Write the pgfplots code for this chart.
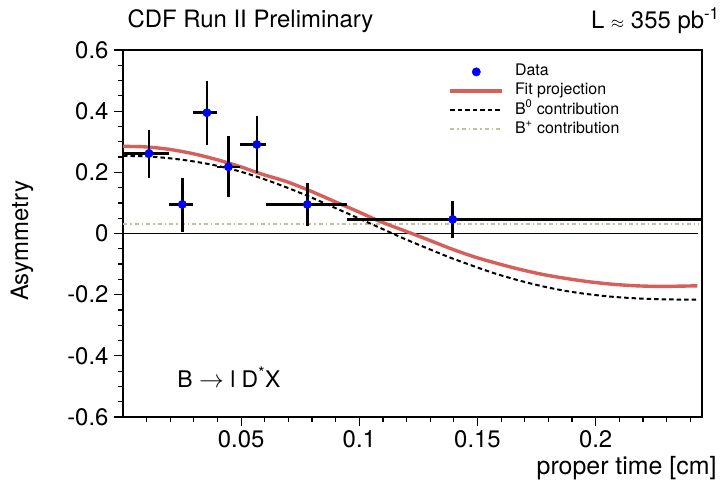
\documentclass[border=0pt]{standalone}
\usepackage{fontspec}
\setmainfont{TeX Gyre Heros}
\usepackage{pgfplots}
\usepackage{pgfplotstable}
\pgfplotsset{compat=1.18}

\definecolor{fitred}{RGB}{215,95,90}
\definecolor{bplustan}{RGB}{200,190,155}

% binned asymmetry: centre, value, bin half-widths and errors
\pgfplotstableread{
x       y      xm      xp      ym     yp
0.0110  0.262  0.0110  0.0086  0.082  0.077
0.0251  0.095  0.0055  0.0044  0.090  0.085
0.0355  0.395  0.0060  0.0042  0.104  0.105
0.0446  0.218  0.0049  0.0049  0.098  0.100
0.0566  0.291  0.0071  0.0038  0.093  0.093
0.0780  0.095  0.0176  0.0167  0.070  0.071
0.1395  0.046  0.0446  0.1200  0.060  0.061
}\asymdata

% projection of the full fit
\pgfplotstableread{
t       a
0.0000  0.285
0.0099  0.283
0.0197  0.275
0.0296  0.261
0.0395  0.242
0.0494  0.219
0.0592  0.193
0.0691  0.170
0.0790  0.140
0.0888  0.107
0.0987  0.074
0.1086  0.040
0.1184  0.011
0.1283 -0.018
0.1382 -0.048
0.1481 -0.075
0.1579 -0.097
0.1678 -0.117
0.1777 -0.134
0.1875 -0.147
0.1974 -0.158
0.2073 -0.166
0.2171 -0.171
0.2270 -0.173
0.2369 -0.172
0.2430 -0.171
}\fitproj

% neutral B component
\pgfplotstableread{
t       a
0.0000  0.254
0.0099  0.252
0.0197  0.246
0.0296  0.236
0.0395  0.222
0.0494  0.203
0.0592  0.179
0.0691  0.151
0.0790  0.120
0.0888  0.087
0.0987  0.053
0.1086  0.019
0.1184 -0.015
0.1283 -0.047
0.1382 -0.078
0.1481 -0.106
0.1579 -0.132
0.1678 -0.154
0.1777 -0.173
0.1875 -0.188
0.1974 -0.199
0.2073 -0.207
0.2171 -0.212
0.2270 -0.215
0.2369 -0.216
0.2430 -0.216
}\bzero

\begin{document}
\begin{tikzpicture}
\useasboundingbox (0,0) rectangle (724bp,481bp);
\begin{axis}[
  at={(123bp,64bp)}, anchor=south west,
  scale only axis, width=579bp, height=367bp,
  xmin=0, xmax=0.245, ymin=-0.6, ymax=0.6,
  axis line style={line width=2.4bp},
  tick pos=left, tick align=outside,
  xtick={0.05,0.1,0.15,0.2},
  xticklabels={0.05,0.1,0.15,0.2},
  ytick={-0.6,-0.4,-0.2,0,0.2,0.4,0.6},
  yticklabels={-0.6,-0.4,-0.2,0,0.2,0.4,0.6},
  minor xtick={0.01,0.02,0.03,0.04,0.06,0.07,0.08,0.09,0.11,0.12,0.13,0.14,0.16,0.17,0.18,0.19,0.21,0.22,0.23,0.24},
  minor ytick={-0.55,-0.5,-0.45,-0.35,-0.3,-0.25,-0.15,-0.1,-0.05,0.05,0.1,0.15,0.25,0.3,0.35,0.45,0.5,0.55},
  major tick length=9bp, minor tick length=5bp,
  every tick/.style={black, line width=1.2bp},
  tick label style={font=\fontsize{24}{27}\selectfont},
  xticklabel style={yshift=-1bp},
  yticklabel style={xshift=-2bp},
  legend image code/.code={\draw[mark repeat=2,mark phase=2,#1] plot coordinates {(0bp,0bp) (26bp,0bp) (52bp,0bp)};},
  legend style={draw=none, fill=none, at={(0.562,0.962)}, anchor=north west,
    inner sep=0pt, column sep=11bp, row sep=3.7bp,
    nodes={inner sep=0pt, text height=11.5bp, text depth=4bp},
    font=\fontsize{16}{18}\selectfont},
  legend cell align=left,
]
\addlegendimage{only marks, mark=*, mark size=4.2bp, blue, mark options={draw=blue, fill=blue}}
\addlegendentry{Data}
\addlegendimage{fitred, line width=3.4bp}
\addlegendentry{Fit projection}
\addlegendimage{black, line width=2bp, dash pattern=on 4.5bp off 3bp}
\addlegendentry{B\textsuperscript{0} contribution}
\addlegendimage{bplustan, line width=2bp, dash pattern=on 4bp off 3bp on 1.5bp off 3bp}
\addlegendentry{B\textsuperscript{+} contribution}

% zero line
\addplot[black, line width=0.9bp, forget plot] coordinates {(0,0) (0.2435,0)};
% charged B component (flat)
\addplot[bplustan, line width=2bp, dash pattern=on 4bp off 3bp on 1.5bp off 3bp, forget plot]
  coordinates {(0,0.03) (0.2435,0.03)};
% neutral B component
\addplot[black, line width=2bp, dash pattern=on 4.5bp off 3bp, smooth, forget plot]
  table[x=t, y=a] {\bzero};
% fit projection
\addplot[fitred, line width=3.4bp, smooth, forget plot]
  table[x=t, y=a] {\fitproj};
% data points with bin widths and errors
\addplot[only marks, mark=*, mark size=4.2bp, blue, mark options={draw=blue, fill=blue},
  forget plot,
  error bars/.cd, x dir=both, x explicit, y dir=both, y explicit,
  error mark=none, error bar style={black, line width=2.4bp}]
  table[x=x, y=y, x error minus=xm, x error plus=xp, y error minus=ym, y error plus=yp] {\asymdata};

\node[anchor=west, font=\fontsize{23}{26}\selectfont] at (rel axis cs:0.088,0.109)
  {B $\rightarrow$ l D\textsuperscript{*}X};
\end{axis}

\node[anchor=west, font=\fontsize{24}{27}\selectfont] at (124bp,460bp) {CDF Run II Preliminary};
\node[anchor=east, font=\fontsize{24}{27}\selectfont] at (723bp,460bp)
  {L {\fontsize{17}{17}\selectfont$\approx$} 355 pb\textsuperscript{-1}};
\node[rotate=90, font=\fontsize{24}{27}\selectfont] at (22bp,240bp) {Asymmetry};
\node[anchor=east, font=\fontsize{25}{28}\selectfont] at (720bp,13bp) {proper time [cm]};
\end{tikzpicture}
\end{document}
